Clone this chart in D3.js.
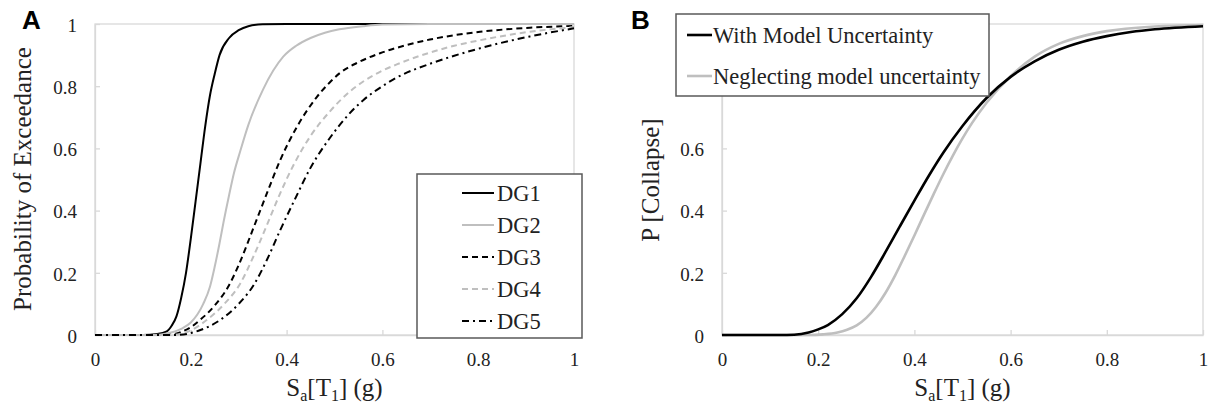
<!DOCTYPE html>
<html lang="en">
<head>
  <meta charset="UTF-8">
  <title>Fragility curves</title>
  <script src="https://cdn.jsdelivr.net/npm/d3@7/dist/d3.min.js"></script>
  <style>
    body { margin: 0; background: #fff; }
    svg { display: block; font-family: "Liberation Serif", "Times New Roman", serif; }
    svg text { font-family: "Liberation Serif", "Times New Roman", serif; }
    svg text.panel-label { font-family: "Liberation Sans", Arial, sans-serif; font-weight: bold; font-size: 26px; }
  </style>
</head>
<body>
<div id="chart"></div>
<script>
  // ticks
  const xTicks = [0, 0.2, 0.4, 0.6, 0.8, 1];
  const yTicks = [0, 0.2, 0.4, 0.6, 0.8, 1];

  // panel A : damage groups, [Sa, P]
  const dgNames = ['DG1', 'DG2', 'DG3', 'DG4', 'DG5'];
  const dg1 = [[0,0],[0.1,0],[0.13,0.003],[0.15,0.012],[0.16,0.03],[0.17,0.06],[0.18,0.12],[0.19,0.2],[0.2,0.31],[0.21,0.43],[0.22,0.55],[0.23,0.67],[0.24,0.77],[0.25,0.84],[0.26,0.9],[0.28,0.955],[0.3,0.98],[0.32,0.993],[0.35,0.999],[0.4,1],[1,1]];
  const dg2 = [[0,0],[0.12,0],[0.15,0.005],[0.18,0.02],[0.2,0.04],[0.226,0.1],[0.24,0.155],[0.25,0.22],[0.26,0.295],[0.268,0.36],[0.28,0.45],[0.29,0.52],[0.303,0.59],[0.32,0.675],[0.351,0.79],[0.393,0.895],[0.42,0.93],[0.45,0.955],[0.48,0.972],[0.51,0.983],[0.56,0.993],[0.6,0.998],[0.7,1],[1,1]];
  const dg3 = [[0,0],[0.15,0],[0.18,0.01],[0.2,0.025],[0.219,0.048],[0.25,0.095],[0.278,0.155],[0.3,0.225],[0.331,0.345],[0.36,0.46],[0.386,0.56],[0.42,0.665],[0.463,0.765],[0.49,0.812],[0.511,0.842],[0.55,0.877],[0.595,0.906],[0.65,0.932],[0.699,0.95],[0.75,0.964],[0.804,0.975],[0.908,0.988],[1,0.994]];
  const dg4 = [[0,0],[0.16,0],[0.2,0.015],[0.233,0.048],[0.27,0.1],[0.303,0.165],[0.33,0.25],[0.358,0.35],[0.385,0.45],[0.414,0.545],[0.45,0.64],[0.491,0.72],[0.53,0.78],[0.56,0.815],[0.6,0.85],[0.63,0.87],[0.699,0.908],[0.75,0.93],[0.804,0.948],[0.908,0.975],[1,0.99]];
  const dg5 = [[0,0],[0.17,0],[0.22,0.016],[0.261,0.048],[0.3,0.1],[0.331,0.16],[0.36,0.245],[0.386,0.335],[0.42,0.445],[0.449,0.535],[0.491,0.635],[0.53,0.71],[0.56,0.755],[0.6,0.8],[0.63,0.828],[0.699,0.872],[0.75,0.898],[0.804,0.922],[0.908,0.96],[1,0.986]];

  // panel B : collapse
  const collapseNames = ['With Model Uncertainty', 'Neglecting model uncertainty'];
  const withModel = [[0,0],[0.12,0],[0.15,0.001],[0.18,0.008],[0.2,0.018],[0.22,0.032],[0.25,0.067],[0.28,0.118],[0.31,0.187],[0.34,0.267],[0.37,0.35],[0.4,0.432],[0.43,0.512],[0.46,0.586],[0.5,0.672],[0.55,0.762],[0.6,0.83],[0.65,0.88],[0.7,0.917],[0.75,0.943],[0.8,0.961],[0.85,0.974],[0.9,0.983],[1,0.993]];
  const neglecting = [[0,0],[0.18,0],[0.21,0.002],[0.24,0.008],[0.26,0.017],[0.28,0.031],[0.3,0.055],[0.32,0.09],[0.34,0.136],[0.36,0.192],[0.38,0.255],[0.4,0.32],[0.42,0.387],[0.44,0.453],[0.46,0.517],[0.48,0.577],[0.5,0.632],[0.52,0.682],[0.55,0.747],[0.6,0.832],[0.65,0.895],[0.7,0.936],[0.75,0.961],[0.8,0.977],[0.9,0.992],[1,0.997]];

  const W = 1209, H = 406;
  const axisGrey = '#d9d9d9', lightLine = '#bfbfbf';

  const svg = d3.select('#chart').append('svg')
    .attr('width', W).attr('height', H);

  const line = (x, y) => d3.line().x(d => x(d[0])).y(d => y(d[1])).curve(d3.curveMonotoneX);

  function frame(left, right, top, bottom) {
    const x = d3.scaleLinear().domain([0, 1]).range([left, right]);
    const y = d3.scaleLinear().domain([0, 1]).range([bottom, top]);

    svg.append('rect')
      .attr('x', left).attr('y', top)
      .attr('width', right - left).attr('height', bottom - top)
      .attr('fill', 'none').attr('stroke', axisGrey).attr('stroke-width', 1.3);

    const xa = svg.append('g')
      .attr('transform', `translate(0,${bottom})`)
      .call(d3.axisBottom(x).tickValues(xTicks).tickFormat(d => String(d)).tickSize(-5).tickSizeOuter(0));
    xa.selectAll('text').attr('y', 31).attr('dy', 0);

    const ya = svg.append('g')
      .attr('transform', `translate(${left},0)`)
      .call(d3.axisLeft(y).tickValues(yTicks).tickFormat(d => String(d)).tickSize(-5).tickSizeOuter(0));
    ya.selectAll('text').attr('x', -18).attr('dy', '0.38em');

    [xa, ya].forEach(g => {
      g.attr('font-family', '"Liberation Serif", serif').attr('font-size', 19);
      g.select('.domain').attr('stroke', axisGrey).attr('stroke-width', 1.3);
      g.selectAll('.tick line').attr('stroke', axisGrey).attr('stroke-width', 1.3);
      g.selectAll('text').attr('fill', '#222');
    });

    // x title with subscripts
    const t = svg.append('text')
      .attr('x', (left + right) / 2).attr('y', 396)
      .attr('text-anchor', 'middle').style('font-size', '25px').attr('fill', '#222');
    t.append('tspan').text('S');
    t.append('tspan').attr('dy', 5).style('font-size', '16px').text('a');
    t.append('tspan').attr('dy', -5).text('[T');
    t.append('tspan').attr('dy', 5).style('font-size', '16px').text('1');
    t.append('tspan').attr('dy', -5).text('] (g)');

    return {x, y};
  }

  // ---- panel A
  const A = frame(95, 574, 24, 335);
  const dgStyle = [
    {data: dg1, color: '#000', dash: null},
    {data: dg2, color: lightLine, dash: null},
    {data: dg3, color: '#000', dash: '6,4'},
    {data: dg4, color: lightLine, dash: '6,4'},
    {data: dg5, color: '#000', dash: '7,4,2,4'}
  ];
  dgStyle.forEach(s => {
    svg.append('path').datum(s.data)
      .attr('d', line(A.x, A.y))
      .attr('fill', 'none').attr('stroke', s.color).attr('stroke-width', 2)
      .attr('stroke-dasharray', s.dash);
  });

  svg.append('text')
    .attr('transform', 'translate(31,179) rotate(-90)')
    .attr('text-anchor', 'middle').style('font-size', '25px').attr('fill', '#222')
    .text('Probability of Exceedance');
  svg.append('text').attr('class', 'panel-label').attr('x', 22).attr('y', 29).text('A');

  const legA = svg.append('g');
  legA.append('rect').attr('x', 417).attr('y', 174).attr('width', 165).attr('height', 164)
    .attr('fill', '#fff').attr('stroke', '#595959').attr('stroke-width', 1.5);
  dgNames.forEach((name, i) => {
    const yy = 193 + i * 32;
    legA.append('line').attr('x1', 462).attr('x2', 494).attr('y1', yy).attr('y2', yy)
      .attr('stroke', dgStyle[i].color).attr('stroke-width', 2)
      .attr('stroke-dasharray', dgStyle[i].dash);
    legA.append('text').attr('x', 497).attr('y', yy).attr('dy', '0.35em')
      .style('font-size', '22.5px').attr('fill', '#222').text(name);
  });

  // ---- panel B
  const B = frame(722, 1203, 24, 335);
  const colStyle = [
    {data: neglecting, color: lightLine, name: collapseNames[1]},
    {data: withModel, color: '#000', name: collapseNames[0]}
  ];
  colStyle.forEach(s => {
    svg.append('path').datum(s.data)
      .attr('d', line(B.x, B.y))
      .attr('fill', 'none').attr('stroke', s.color).attr('stroke-width', 2.6);
  });

  svg.append('text')
    .attr('transform', 'translate(659,180) rotate(-90)')
    .attr('text-anchor', 'middle').style('font-size', '25px').attr('fill', '#222')
    .text('P [Collapse]');
  svg.append('text').attr('class', 'panel-label').attr('x', 631).attr('y', 29).text('B');

  const legB = svg.append('g');
  legB.append('rect').attr('x', 676).attr('y', 14).attr('width', 313).attr('height', 82)
    .attr('fill', '#fff').attr('stroke', '#595959').attr('stroke-width', 1.5);
  collapseNames.forEach((name, i) => {
    const yy = 35 + i * 41;
    const c = i === 0 ? '#000' : lightLine;
    legB.append('line').attr('x1', 687).attr('x2', 712).attr('y1', yy).attr('y2', yy)
      .attr('stroke', c).attr('stroke-width', 2.6);
    legB.append('text').attr('x', 713).attr('y', yy).attr('dy', '0.35em')
      .style('font-size', '22.5px').attr('fill', '#222').text(name);
  });
</script>
</body>
</html>
